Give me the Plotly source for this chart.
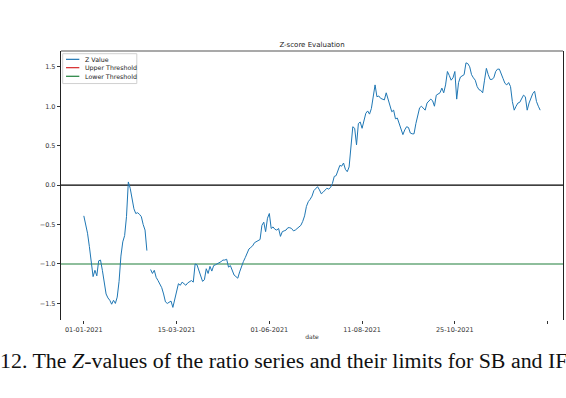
import plotly.graph_objects as go

# ---- data ----
z_values = [
    -0.39, -0.50, -0.61, -0.78, -0.99, -1.16, -1.08, -1.15, -0.96, -0.95,
    -1.08, -1.22, -1.38, -1.43, -1.46, -1.51, -1.46, -1.50, -1.42, -1.22,
    -0.90, -0.72, -0.64, -0.40, 0.04, -0.04, -0.19, -0.30, -0.36, -0.35,
    -0.37, -0.40, -0.50, -0.57, -0.83, None, -1.07, -1.12, -1.08, -1.17,
    -1.21, -1.25, -1.30, -1.38, -1.48, -1.50, -1.49, -1.47, -1.55, -1.44,
    -1.34, -1.25, -1.27, -1.23, -1.25, -1.27, -1.24, -1.22, -1.21, -1.23,
    -1.00, -1.01, -1.08, -1.17, -1.22, -1.20, -1.06, -1.12, -1.03, -1.09,
    -1.02, -1.01, -1.00, -0.98, -0.97, -0.95, -0.95, -0.94, -1.04, -1.02,
    -1.09, -1.14, -1.16, -1.18, -1.10, -1.02, -0.97, -0.92, -0.86, -0.81,
    -0.79, -0.77, -0.73, -0.72, -0.70, -0.69, -0.51, -0.47, -0.59, -0.42,
    -0.36, -0.55, -0.53, -0.56, -0.57, -0.55, -0.65, -0.59, -0.58, -0.57,
    -0.54, -0.54, -0.55, -0.58, -0.57, -0.55, -0.53, -0.51, -0.46, -0.39,
    -0.27, -0.21, -0.18, -0.14, -0.07, -0.04, -0.02, -0.06, -0.11, -0.09,
    -0.06, -0.04, -0.05, -0.03, 0.02, 0.11, 0.12, 0.19, 0.25, 0.24,
    0.28, 0.20, 0.17, 0.23, 0.45, 0.74, 0.72, 0.51, 0.78, 0.80,
    0.72, 0.83, 0.91, 0.94, 0.90, 0.97, 1.12, 1.27, 1.12, 1.13,
    1.10, 1.09, 1.08, 1.17, 1.08, 1.00, 0.93, 0.95, 0.84, 0.85,
    0.78, 0.70, 0.64, 0.70, 0.74, 0.73, 0.66, 0.65, 0.65, 0.78,
    0.89, 0.98, 1.00, 0.97, 0.95, 1.04, 1.07, 1.09, 1.07, 1.00,
    1.14, 1.15, 1.17, 1.23, 1.17, 1.27, 1.44, 1.39, 1.33, 1.36,
    1.44, 1.09, 1.30, 1.37, 1.39, 1.40, 1.55, 1.54, 1.50, 1.40,
    1.36, 1.33, 1.25, 1.21, 1.20, 1.17, 1.33, 1.48, 1.40, 1.34,
    1.34, 1.36, 1.44, 1.47, 1.47, 1.42, 1.35, 1.29, 1.27, 1.30,
    1.25, 1.06, 0.95, 1.00, 1.04, 1.05, 1.10, 1.14, 1.12, 0.95,
    1.04, 1.10, 1.16, 1.19, 1.06, 1.00, 0.95,
]
day_index = list(range(len(z_values)))

tick_positions = [0, 50, 100, 150, 200, 250]
tick_labels = ["01-01-2021", "15-03-2021", "01-06-2021", "11-08-2021", "25-10-2021", ""]

y_ticks = [-1.5, -1.0, -0.5, 0.0, 0.5, 1.0, 1.5]
y_tick_labels = ["\u22121.5", "\u22121.0", "\u22120.5", "0.0", "0.5", "1.0", "1.5"]

center_line = 0.0
lower_threshold = -1.0

legend_names = ["Z Value", "Upper Threshold", "Lower Threshold"]

title_text = "Z-score Evaluation"
x_title = "date"
caption = "12. The <i>Z</i>-values of the ratio series and their limits for SB and IF"

BLUE = "#1f77b4"
RED = "#d62728"
GREEN = "#1e7f3a"
legend_colors = [BLUE, RED, GREEN]
TICK_FONT = dict(family="DejaVu Sans", size=6.5, color="#333333")

fig = go.Figure()
fig.add_trace(go.Scatter(x=day_index, y=z_values, mode="lines", name=legend_names[0],
                         line=dict(color=BLUE, width=1), connectgaps=False,
                         showlegend=False, hoverinfo="skip"))

fig.add_hline(y=center_line, line=dict(color="black", width=1.2), layer="below")
fig.add_hline(y=lower_threshold, line=dict(color=GREEN, width=1.2), layer="below")

# top frame line of the axes box
fig.add_shape(type="line", xref="paper", yref="paper", x0=0, x1=1, y0=1, y1=1,
              line=dict(color="#555555", width=1.2))

# matplotlib-style compact legend box (upper left)
fig.add_shape(type="rect", xref="paper", yref="paper", x0=0.0034, x1=0.151, y0=0.879, y1=0.99,
              line=dict(color="#d0d0d0", width=1), fillcolor="rgba(255,255,255,0.9)")
leg_rows = [0.969, 0.938, 0.906]
for name, color, yy in zip(legend_names, legend_colors, leg_rows):
    fig.add_shape(type="line", xref="paper", yref="paper", x0=0.010, x1=0.0365, y0=yy, y1=yy,
                  line=dict(color=color, width=1.2))
    fig.add_annotation(text=name, xref="paper", yref="paper", x=0.044, y=yy,
                       xanchor="left", yanchor="middle", showarrow=False,
                       font=dict(family="DejaVu Sans", size=6.3, color="#222222"))

n = len(z_values) - 1
pad = 0.05 * n

fig.update_layout(
    width=566, height=398,
    paper_bgcolor="white", plot_bgcolor="white",
    margin=dict(l=61, r=3, t=51, b=78, autoexpand=False),
    showlegend=False,
    title=dict(text=title_text, x=0.5, xref="paper", y=1 - 45 / 398, yref="container",
               yanchor="middle",
               font=dict(family="DejaVu Sans", size=7, color="#222222")),
    font=dict(family="DejaVu Sans"),
)

fig.update_xaxes(
    range=[-pad, n + pad], automargin=False,
    tickmode="array", tickvals=tick_positions, ticktext=tick_labels,
    ticks="outside", ticklen=3, tickcolor="#333333", tickwidth=1,
    tickfont=TICK_FONT, showgrid=False, zeroline=False, showline=False,
    title=dict(text=x_title, font=dict(family="DejaVu Sans", size=6, color="#333333"), standoff=2),
)
fig.update_yaxes(
    range=[-1.71, 1.70], automargin=False,
    tickmode="array", tickvals=y_ticks, ticktext=y_tick_labels,
    ticks="outside", ticklen=3, tickcolor="#333333", tickwidth=1,
    tickfont=TICK_FONT, showgrid=False, zeroline=False,
    showline=True, linecolor="#222222", linewidth=1.2, mirror=True,
)

fig.add_annotation(text=caption, xref="paper", yref="paper",
                   x=(283 - 61) / 502, xanchor="center", y=(320 - 360) / 269, yanchor="middle",
                   showarrow=False,
                   font=dict(family="Liberation Serif", size=21.9, color="#111111"))

fig.write_html("out.html",
               config={"displayModeBar": False, "staticPlot": True},
               post_script="document.body.style.margin='0';document.body.style.overflow='hidden';")
